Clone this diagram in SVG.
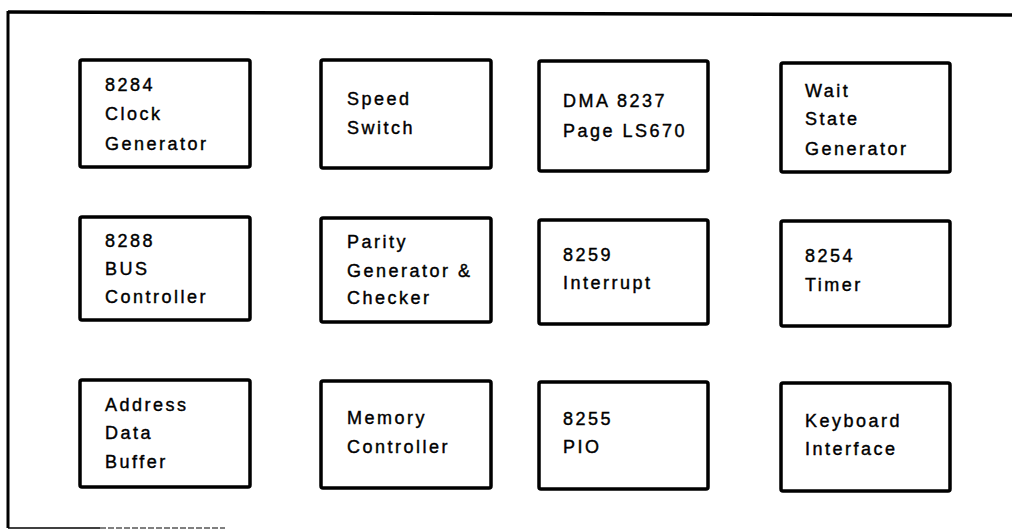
<svg xmlns="http://www.w3.org/2000/svg" width="1012" height="530" viewBox="0 0 1012 530">
<style>
.box{fill:#fff;stroke:#000;stroke-width:3.5;rx:2}
.t{font-family:"Liberation Sans",Arial,sans-serif;font-size:18px;letter-spacing:2.5px;fill:#000;stroke:#000;stroke-width:0.4}
.frame{stroke:#000;fill:none}
</style>
<rect width="1012" height="530" fill="#fff"/>
<g id="frame">
<line class="frame" x1="8" y1="12" x2="1012" y2="15" stroke-width="3.5"/>
<line class="frame" x1="8" y1="11" x2="8" y2="528" stroke-width="3"/>
<line class="frame" x1="8" y1="528" x2="100" y2="528" stroke-width="1.5" stroke="#555"/>
<line class="frame" x1="100" y1="528" x2="225" y2="528" stroke-width="1" stroke="#999" stroke-dasharray="6 2"/>
</g>
<g id="connectors"></g>
<g id="n1"><rect class="box" x="80" y="60" width="170" height="107"/><text class="t" x="105" y="91">8284</text><text class="t" x="105" y="120">Clock</text><text class="t" x="105" y="150">Generator</text></g>
<g id="n2"><rect class="box" x="321" y="60" width="170" height="108"/><text class="t" x="347" y="105">Speed</text><text class="t" x="347" y="134">Switch</text></g>
<g id="n3"><rect class="box" x="539" y="61" width="169" height="110"/><text class="t" x="563" y="107">DMA 8237</text><text class="t" x="563" y="137">Page LS670</text></g>
<g id="n4"><rect class="box" x="781" y="63" width="169" height="109"/><text class="t" x="805" y="97">Wait</text><text class="t" x="805" y="125">State</text><text class="t" x="805" y="155">Generator</text></g>
<g id="n5"><rect class="box" x="80" y="217" width="170" height="103"/><text class="t" x="105" y="247">8288</text><text class="t" x="105" y="275">BUS</text><text class="t" x="105" y="303">Controller</text></g>
<g id="n6"><rect class="box" x="321" y="218" width="170" height="104"/><text class="t" x="347" y="248">Parity</text><text class="t" x="347" y="277">Generator &amp;</text><text class="t" x="347" y="304">Checker</text></g>
<g id="n7"><rect class="box" x="539" y="220" width="169" height="104"/><text class="t" x="563" y="261">8259</text><text class="t" x="563" y="289">Interrupt</text></g>
<g id="n8"><rect class="box" x="781" y="221" width="169" height="105"/><text class="t" x="805" y="262">8254</text><text class="t" x="805" y="291">Timer</text></g>
<g id="n9"><rect class="box" x="80" y="380" width="170" height="107"/><text class="t" x="105" y="411">Address</text><text class="t" x="105" y="439">Data</text><text class="t" x="105" y="468">Buffer</text></g>
<g id="n10"><rect class="box" x="321" y="381" width="170" height="107"/><text class="t" x="347" y="424">Memory</text><text class="t" x="347" y="453">Controller</text></g>
<g id="n11"><rect class="box" x="539" y="382" width="169" height="107"/><text class="t" x="563" y="425">8255</text><text class="t" x="563" y="453">PIO</text></g>
<g id="n12"><rect class="box" x="781" y="383" width="169" height="108"/><text class="t" x="805" y="427">Keyboard</text><text class="t" x="805" y="455">Interface</text></g>
</svg>
